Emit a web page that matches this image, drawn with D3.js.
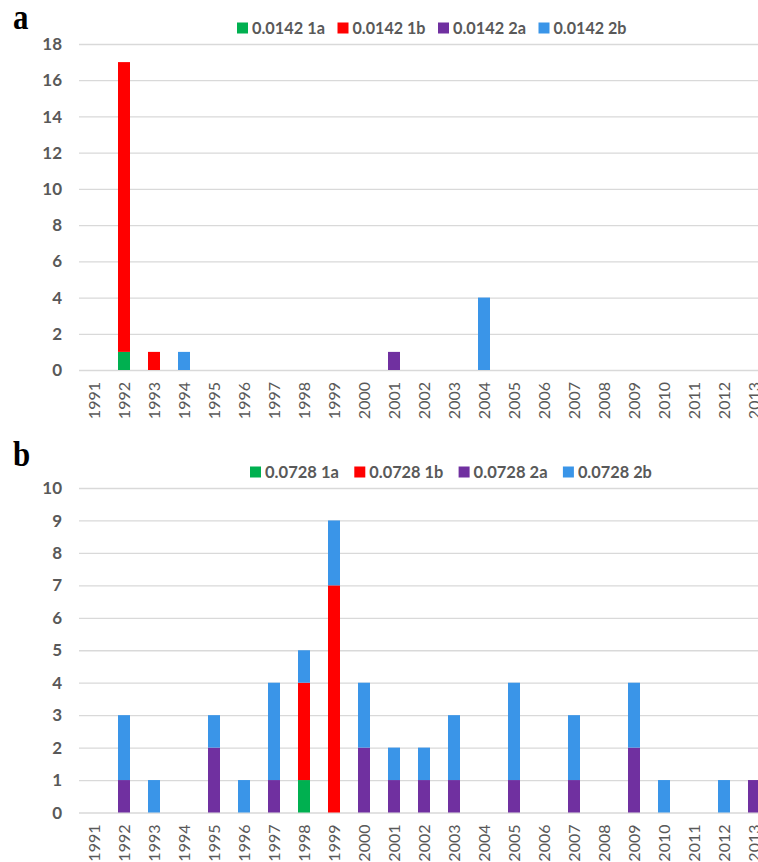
<!DOCTYPE html>
<html>
<head>
<meta charset="utf-8">
<script src="https://cdn.jsdelivr.net/npm/d3@7"></script>
<style>
  body { margin: 0; background: #fff; }
  svg { display: block; }
</style>
</head>
<body>
<div id="chart"></div>
<script>
const years = d3.range(1991, 2014).map(String);
const seriesKeys = ['1a', '1b', '2a', '2b'];
const seriesColors = ['#00B050', '#FF0000', '#7030A0', '#3A95E8'];

// panel a (0.0142)
const a1a = { 1992: 1 };
const a1b = { 1992: 16, 1993: 1 };
const a2a = { 2001: 1 };
const a2b = { 1994: 1, 2004: 4 };
const aTicks = [0, 2, 4, 6, 8, 10, 12, 14, 16, 18];

// panel b (0.0728)
const b1a = { 1998: 1 };
const b1b = { 1998: 3, 1999: 7 };
const b2a = { 1992: 1, 1995: 2, 1997: 1, 2000: 2, 2001: 1, 2002: 1, 2003: 1, 2005: 1, 2007: 1, 2009: 2, 2013: 1 };
const b2b = { 1992: 2, 1993: 1, 1995: 1, 1996: 1, 1997: 3, 1998: 1, 1999: 2, 2000: 2, 2001: 1, 2002: 1, 2003: 2, 2005: 3, 2007: 2, 2009: 2, 2010: 1, 2012: 1 };
const bTicks = [0, 1, 2, 3, 4, 5, 6, 7, 8, 9, 10];

const W = 758, H = 862;
const font = 'Lato, Open Sans, Liberation Sans, sans-serif';
const svg = d3.select('#chart').append('svg').attr('width', W).attr('height', H);

function panel({ letter, letterY, prefix, cols, ticks, top, bottom, legendY, legendX, legendStep, legendTextW }) {
  const rows = years.map(y => {
    const r = { year: y };
    seriesKeys.forEach((k, i) => { r[k] = cols[i][y] || 0; });
    return r;
  });
  const stacked = d3.stack().keys(seriesKeys)(rows);

  const x = d3.scaleBand().domain(years).range([79, 79 + 23 * 30]).paddingInner(0.6).paddingOuter(0.3);
  const y = d3.scaleLinear().domain([0, d3.max(ticks)]).range([bottom, top]);

  const g = svg.append('g');

  // gridlines
  g.append('g')
    .attr('transform', 'translate(79,0)')
    .call(d3.axisLeft(y).tickValues(ticks).tickSize(-(W - 79)).tickFormat(''))
    .call(s => s.select('.domain').remove())
    .selectAll('line').attr('stroke', '#D9D9D9').attr('stroke-width', 1.3);

  g.selectAll('.ylab').data(ticks).join('text')
    .attr('x', 62).attr('y', d => y(d)).attr('dy', '0.36em')
    .attr('text-anchor', 'end')
    .attr('font-family', font)
    .attr('font-weight', 700).attr('font-size', 17).attr('fill', '#595959')
    .text(d => d);

  g.selectAll('.layer').data(stacked).join('g')
    .attr('fill', (d, i) => seriesColors[i])
    .selectAll('rect').data(d => d.filter(p => p[1] > p[0])).join('rect')
    .attr('x', d => x(d.data.year))
    .attr('width', x.bandwidth())
    .attr('y', d => y(d[1]))
    .attr('height', d => y(d[0]) - y(d[1]));

  g.selectAll('.xlab').data(years).join('text')
    .attr('transform', d => `translate(${x(d) + x.bandwidth() / 2},${bottom + 12}) rotate(-90)`)
    .attr('dy', '0.36em')
    .attr('text-anchor', 'end')
    .attr('font-family', font)
    .attr('font-size', 16).attr('fill', '#595959')
    .text(d => d);

  // legend
  const leg = g.append('g').attr('transform', `translate(${legendX},${legendY})`);
  seriesKeys.forEach((k, i) => {
    const lx = i * legendStep;
    leg.append('rect').attr('x', lx).attr('y', -5.5).attr('width', 11).attr('height', 11).attr('fill', seriesColors[i]);
    leg.append('text').attr('x', lx + 15).attr('y', 0).attr('dy', '0.36em')
      .attr('font-family', font)
      .attr('font-weight', 700).attr('font-size', 17).attr('fill', '#595959')
      .attr('textLength', legendTextW).attr('lengthAdjust', 'spacingAndGlyphs')
      .text(`${prefix} ${k}`);
  });

  svg.append('text')
    .attr('transform', `translate(13,${letterY}) scale(0.86,1)`)
    .attr('font-family', 'Liberation Serif, DejaVu Serif, serif')
    .attr('font-weight', 700).attr('font-size', 36).attr('fill', '#000')
    .text(letter);
}

panel({ letter: 'a', letterY: 29, prefix: '0.0142', cols: [a1a, a1b, a2a, a2b], ticks: aTicks,
  top: 44, bottom: 370, legendY: 28, legendX: 237, legendStep: 100.5, legendTextW: 73 });
panel({ letter: 'b', letterY: 466, prefix: '0.0728', cols: [b1a, b1b, b2a, b2b], ticks: bTicks,
  top: 488, bottom: 812.5, legendY: 472, legendX: 250, legendStep: 104.3, legendTextW: 74 });
</script>
</body>
</html>
